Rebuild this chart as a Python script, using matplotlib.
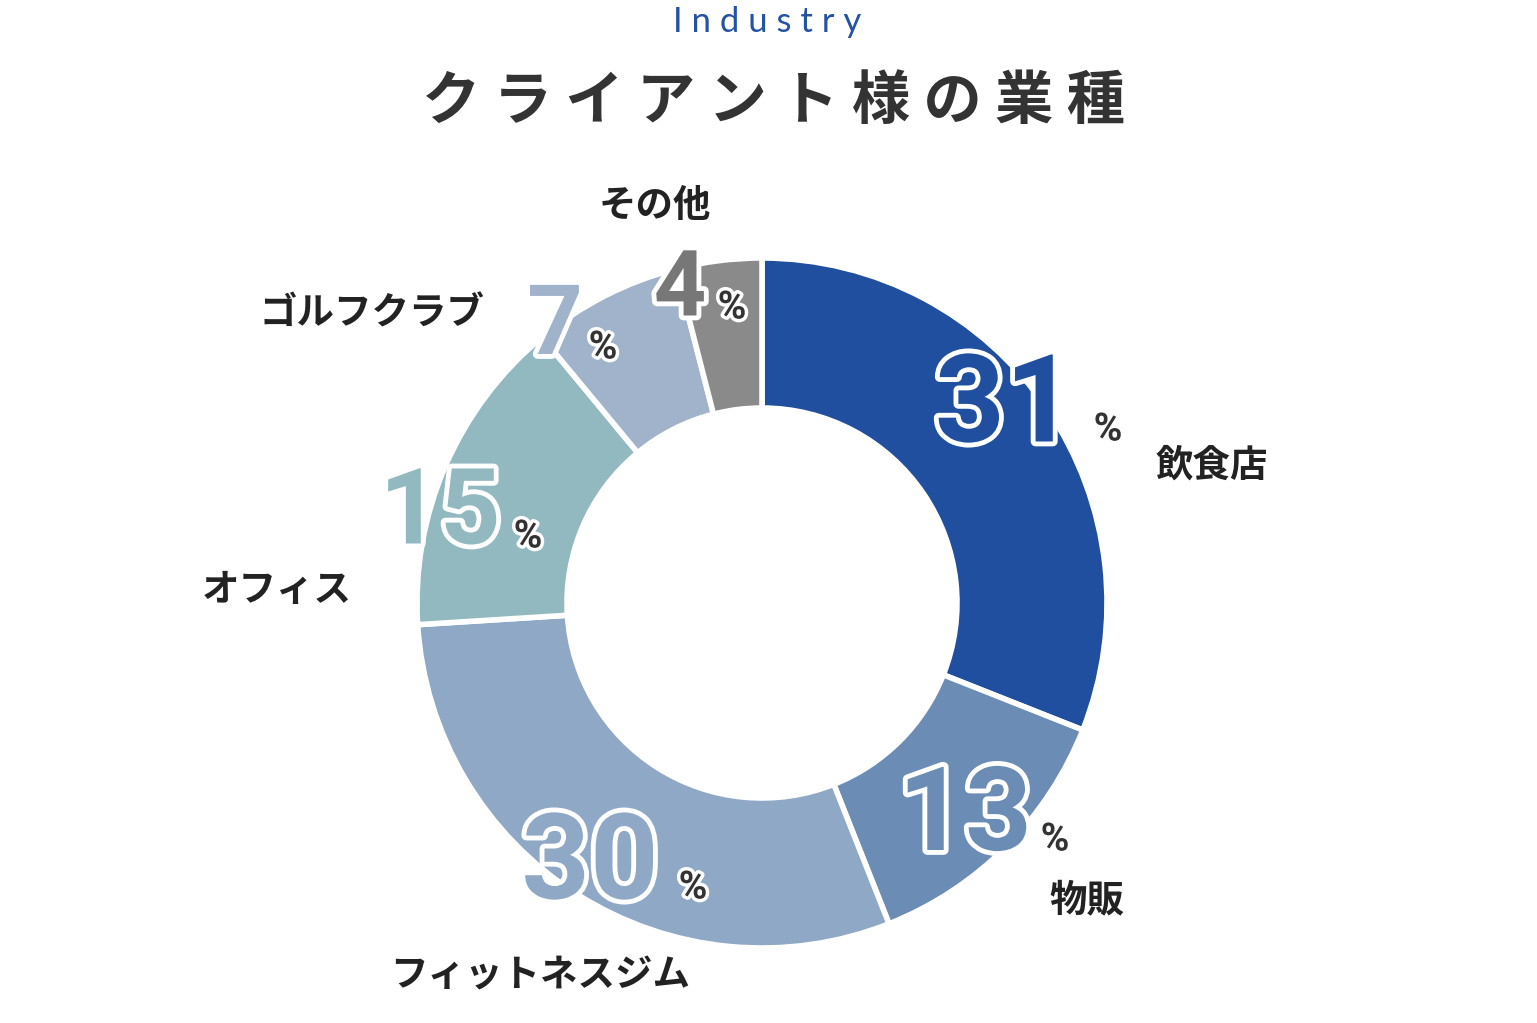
import matplotlib.pyplot as plt
import matplotlib.patheffects as pe

plt.rcParams['font.family'] = ['Noto Sans CJK JP', 'DejaVu Sans']

categories = ['飲食店', '物販', 'フィットネスジム', 'オフィス', 'ゴルフクラブ', 'その他']
values = [31, 13, 30, 15, 7, 4]
colors = ['#1f4f9e', '#6b8cb4', '#8fa8c6', '#92b9bf', '#a0b3cb', '#8a8a8a']
num_colors = ['#1f4f9e', '#6b8cb4', '#8fa8c6', '#92b9bf', '#a0b3cb', '#777777']

# label placement in pixel coordinates (x, y from top)
num_pos = [(1005, 408), (965, 818), (590, 866), (440, 515), (555, 328), (680, 290)]
num_size = [88, 84, 86, 76, 70, 66]
pct_off = [(103, 22), (90, 22), (103, 22), (88, 22), (48, 20), (52, 18)]
cat_pos = [(1212, 465), (1087, 900), (540, 975), (277, 590), (372, 313), (655, 205)]

W, H = 1537, 1023
fig = plt.figure(figsize=(W / 100, H / 100), dpi=100)
ax = fig.add_axes([0, 0, 1, 1])

cx, cy, r = 762, H - 603, 345
ax.pie(values, colors=colors, startangle=90, counterclock=False, center=(cx, cy),
       radius=r, wedgeprops=dict(width=150, edgecolor='white', linewidth=4), frame=True)
ax.set_xlim(0, W)
ax.set_ylim(0, H)
ax.set_aspect('equal')
ax.axis('off')

ax.text(767, H - 22, 'I n d u s t r y', color='#2553a3', fontsize=25, ha='center', va='center',
        family=['Lato', 'DejaVu Sans'])
ax.text(773, H - 102, 'ク ラ イ ア ン ト 様 の 業 種', color='#333333', fontsize=42,
        fontweight='bold', ha='center', va='center')

for i, v in enumerate(values):
    x, y = num_pos[i]
    ax.text(x, H - y, str(v), fontsize=num_size[i], fontweight='bold', color=num_colors[i],
            ha='center', va='center', family=['Roboto', 'DejaVu Sans'],
            path_effects=[pe.withStroke(linewidth=7, foreground='white')])
    ax.text(x + pct_off[i][0], H - y - pct_off[i][1], '%', fontsize=28, fontweight='bold',
            color='#333333', ha='center', va='center', family=['Roboto', 'DejaVu Sans'],
            path_effects=[pe.withStroke(linewidth=5, foreground='white')])
    cxp, cyp = cat_pos[i]
    ax.text(cxp, H - cyp, categories[i], fontsize=27, fontweight='bold', color='#222222',
            ha='center', va='center')

fig.savefig('out.png', dpi=100, facecolor='white')
